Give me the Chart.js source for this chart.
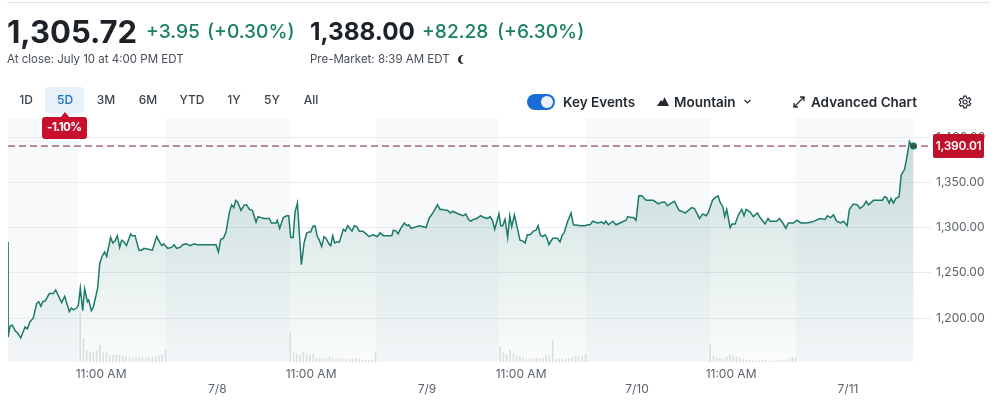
<!DOCTYPE html>
<html>
<head>
<meta charset="utf-8">
<style>
  html, body { margin: 0; padding: 0; background: #fff; }
  body { width: 1008px; height: 403px; overflow: hidden; position: relative; font-family: Inter, "Noto Sans", sans-serif; color: #232a31; }
  #chartWrap { position: absolute; left: 0; top: 0; width: 1008px; height: 403px; }
  .t { position: absolute; white-space: nowrap; line-height: 1; }
  .green { color: #1a7f64; font-weight: 500; font-size: 19.2px; }
  .sub { font-size: 11.5px; color: #464e56; }
  .rng { font-size: 12px; font-weight: 500; color: #3b434b; transform: translateX(-50%); }
  .bold { font-size: 13.5px; font-weight: 600; }
  svg { position: absolute; }
</style>
</head>
<body>
<div id="chartWrap"><canvas id="myChart" width="1008" height="403"></canvas></div>

<div style="position:absolute;left:7px;top:2px;width:983px;height:1px;background:#e0e4e9"></div>
<div class="t" style="left:7px;top:16px;font-size:31px;font-weight:700;color:#1d2229">1,305.72</div>
<div class="t green" style="left:146px;top:22px">+3.95</div>
<div class="t green" style="left:207px;top:22px">(+0.30%)</div>
<div class="t" style="left:310px;top:19px;font-size:24.300px;font-weight:700;color:#1d2229">1,388.00</div>
<div class="t green" style="left:422px;top:22px">+82.28</div>
<div class="t green" style="left:497px;top:22px">(+6.30%)</div>
<div class="t sub" style="left:7px;top:54px">At close: July 10 at 4:00 PM EDT</div>
<div class="t sub" style="left:310px;top:54px">Pre-Market: 8:39 AM EDT</div>
<svg style="left:456px;top:54px" width="11" height="11" viewBox="0 0 11 11"><path d="M7.5 1A4.6 4.6 0 1 0 7.5 10 5 5 0 0 1 7.5 1Z" fill="#232a31"/></svg>

<div style="position:absolute;left:45px;top:87px;width:39px;height:26px;background:#e6f1fa;border-radius:4px"></div>
<div class="t rng" style="left:26px;top:94px">1D</div>
<div class="t rng" style="left:65px;top:94px;color:#1a6dc4">5D</div>
<div class="t rng" style="left:106px;top:94px">3M</div>
<div class="t rng" style="left:148px;top:94px">6M</div>
<div class="t rng" style="left:192px;top:94px">YTD</div>
<div class="t rng" style="left:234px;top:94px">1Y</div>
<div class="t rng" style="left:272px;top:94px">5Y</div>
<div class="t rng" style="left:311px;top:94px">All</div>
<svg style="left:60px;top:112px" width="10" height="6" viewBox="0 0 10 6"><path d="M0 6 5 0 10 6Z" fill="#c8102e"/></svg>
<div style="position:absolute;left:42px;top:117px;width:45px;height:22px;background:#c8102e;border-radius:3px"></div>
<div class="t" style="left:47px;top:122px;font-size:11.5px;font-weight:700;color:#fff;letter-spacing:-0.5px">-1.10%</div>

<div style="position:absolute;left:527px;top:94px;width:28px;height:16px;background:#1a6dd4;border-radius:8px"></div>
<div style="position:absolute;left:541px;top:96px;width:12px;height:12px;background:#eef2f6;border-radius:6px"></div>
<div class="t bold" style="left:563px;top:96px">Key Events</div>
<svg style="left:657px;top:97px" width="12" height="9" viewBox="0 0 12 9"><path d="M0 9 4 3 5.5 4.5 7.5 0 12 9Z" fill="#232a31"/></svg>
<div class="t bold" style="left:674px;top:96px">Mountain</div>
<svg style="left:743px;top:99px" width="9" height="6" viewBox="0 0 9 6"><path d="M1.5 1 4.500 4 7.500 1" fill="none" stroke="#232a31" stroke-width="1.200"/></svg>
<svg style="left:792px;top:95px" width="14" height="14" viewBox="0 0 14 14"><path d="M2 12 12 2M8 2h4v4M2 8v4h4" fill="none" stroke="#232a31" stroke-width="1.300"/></svg>
<div class="t bold" style="left:811px;top:96px">Advanced Chart</div>
<svg style="left:958px;top:95px" width="14" height="14" viewBox="0 0 24 24"><path d="M12 8.500a3.500 3.500 0 1 0 0 7 3.500 3.500 0 0 0 0-7ZM10 2h4l.6 3 2.400 1.200 2.700-1.500 2 3.400-2.200 2 0 2.800 2.200 2-2 3.400-2.700-1.500L14.600 19 14 22h-4l-.6-3-2.400-1.200-2.700 1.500-2-3.400 2.200-2 0-2.800-2.200-2 2-3.400 2.700 1.500L9.400 5Z" fill="none" stroke="#232a31" stroke-width="2"/></svg>

<script src="https://cdn.jsdelivr.net/npm/chart.js@4"></script>
<script>
// hours counted from 4:00 AM on 7/7, one trading day is 16 hours on this axis
const hoursDay1 = [0,0.01,0.15,0.33,0.53,0.71,0.97,1.30,1.47,1.68,1.93,2.18,2.34,2.51,2.64,2.84,3.15,3.45,3.63,4.09,4.32,4.67,4.83,4.98,5.23,5.36,5.51,5.69,5.84,6.05,6.15,6.35,6.50,6.83,6.99,7.16,7.37,7.52,7.82,7.98,8.15,8.33,8.51,8.66,8.84,9.02,9.35,9.47,9.68,9.98,10.19,10.36,10.69,11.00,11.33,11.58,11.73,11.86,12.17,12.47,12.65,12.85,13.11];
const pricesDay1 = [1284,1179,1191,1192,1186,1184,1178,1190,1188,1196,1200,1216,1218,1213,1218,1219,1227,1227,1231,1217,1224,1207,1211,1209,1211,1214,1233,1208,1232,1218,1220,1208,1212,1233,1260,1268,1273,1268,1289,1283,1285,1291,1278,1286,1284,1280,1293,1291,1291,1275,1275,1277,1276,1275,1290,1283,1280,1282,1277,1278,1281,1277,1278];

const hoursDay2 = [13.31,13.56,13.92,14.17,14.43,14.63,15.85,16.03,16.21,16.41,16.61,16.87,17.04,17.20,17.35,17.50,17.75,18.01,18.19,18.39,18.62,18.90,19.05,19.25,19.51,19.91,20.07,20.42,20.52,20.70,20.98,21.23,21.39,21.54,21.72,21.87,22.05,22.35,22.56,22.76,22.91,23.06,23.22,23.39,23.57,23.72,23.90,24.08,24.23,24.49,24.59,24.74,24.89,25.04,25.25,25.55,25.70,25.88,26.21,26.39,26.57,26.77];
const pricesDay2 = [1281,1282,1280,1282,1281,1281,1281,1273,1287,1288,1295,1317,1325,1322,1330,1328,1319,1325,1325,1320,1319,1306,1312,1311,1310,1310,1305,1305,1308,1299,1311,1313,1313,1289,1289,1317,1327,1259,1283,1294,1295,1295,1301,1302,1290,1286,1279,1290,1288,1281,1280,1291,1283,1284,1284,1298,1296,1302,1296,1302,1301,1296];

const hoursDay3 = [27.03,27.20,27.51,27.79,28.14,28.35,28.60,29.24,29.36,29.57,29.72,29.92,30.20,30.38,30.53,30.71,31.34,31.85,32.08,32.41,32.72,32.92,33.12,33.30,33.48,33.73,33.88,34.32,34.70,34.87,35.13,35.28,35.46,35.71,36.02,36.27,36.55,36.73,36.91,37.08,37.41,37.54,37.69,37.87,38.07,38.23,38.38,38.58,38.81,39.01,39.22,39.40,39.57,39.78,40.03,40.23,40.39,40.54];
const pricesDay3 = [1296,1294,1290,1292,1290,1294,1291,1291,1297,1296,1293,1299,1305,1302,1303,1299,1302,1300,1310,1317,1325,1320,1320,1319,1319,1316,1318,1315,1313,1315,1308,1307,1309,1310,1313,1311,1310,1312,1308,1298,1315,1302,1302,1309,1289,1313,1301,1314,1299,1286,1285,1283,1292,1292,1296,1297,1302,1292];

const hoursDay4 = [40.74,40.92,41.05,41.22,41.50,41.86,42.06,42.24,42.37,42.62,42.90,43.08,43.71,43.97,44.15,44.35,44.55,44.91,45.24,45.42,45.54,45.75,46.08,46.33,46.63,47.09,47.22,47.45,47.65,47.85,48.06,48.29,48.62,48.79,49.17,49.56,49.81,50.06,50.24,50.44,50.77,51.13,51.46,51.59,51.84,52.10,52.30,52.68,52.93,53.19,53.37,53.67,53.87,54.10,54.25];
const pricesDay4 = [1290,1292,1289,1281,1288,1288,1284,1292,1294,1306,1316,1303,1302,1302,1303,1303,1307,1305,1306,1304,1307,1303,1307,1303,1305,1308,1312,1311,1311,1308,1335,1335,1330,1330,1330,1326,1328,1328,1324,1326,1329,1319,1317,1316,1319,1322,1321,1310,1315,1313,1317,1330,1333,1335,1328];

const hoursDay5 = [54.46,54.61,54.76,55.02,55.17,55.40,55.65,55.91,56.08,56.24,56.54,56.79,57.10,57.30,57.68,57.91,58.06,58.57,58.78,59.03,59.26,59.46,59.84,60.10,60.43,60.81,61.24,61.87,62.26,62.43,62.69,62.89,63.14,63.45,63.65,63.93,64.11,64.41,64.72,64.92,65.18,65.38,65.56,65.94,66.62,66.78,66.95,67.13,67.28,67.46,67.64,67.89,68.05,68.30,68.48,68.68,68.81,68.99];
const pricesDay5 = [1323,1312,1320,1300,1304,1304,1314,1320,1313,1320,1317,1312,1316,1311,1304,1310,1307,1307,1310,1305,1299,1305,1305,1308,1305,1305,1306,1310,1309,1313,1311,1314,1307,1305,1307,1302,1320,1326,1325,1321,1324,1329,1325,1330,1330,1334,1333,1327,1332,1327,1332,1334,1358,1364,1377,1395,1391,1390];

// volume bars, one per 15 minutes in the regular session
const sessionOpens = [5.5, 21.5, 37.5, 53.5];
const barStep = 0.25;
const volumesDay1 = [49,23,11,10,10,12,17,9,10,7,7,7,7,6,5,4,4,5,5,4,4,5,5,5,6,7,12];
const volumesDay2 = [30,9,8,7,10,8,7,8,4,4,4,3,5,4,3,4,3,3,3,3,4,3,2,2,2,2,10];
const volumesDay3 = [15,9,8,12,8,6,6,4,3,3,3,4,4,4,7,6,22,3,3,3,3,4,5,6,5,6,8];
const volumesDay4 = [17,6,4,4,3,5,7,6,5,4,3,2,2,1,1,2,2,2,1,1,1,2,2,2,3,5,4];

// extended hours shading
const bandStarts = [0, 11.96, 28.04, 44.04, 60.04];
const bandEnds = [5.33, 21.41, 37.41, 53.49, 68.99];

const xTicks = [7.09, 15.95, 23.09, 31.92, 39.09, 47.92, 55.09, 64];
const xLabels = ['11:00 AM', '7/8', '11:00 AM', '7/9', '11:00 AM', '7/10', '11:00 AM', '7/11'];
const yTicks = [1200, 1250, 1300, 1350, 1400];
const lastPrice = 1390.01;

const hours = [...hoursDay1, ...hoursDay2, ...hoursDay3, ...hoursDay4, ...hoursDay5];
const prices = [...pricesDay1, ...pricesDay2, ...pricesDay3, ...pricesDay4, ...pricesDay5];
const linePoints = hours.map((h, i) => ({ x: h, y: prices[i] }));

const volumePoints = [];
[volumesDay1, volumesDay2, volumesDay3, volumesDay4].forEach((vols, d) => {
  vols.forEach((v, i) => volumePoints.push({ x: sessionOpens[d] + i * barStep, y: v }));
});

const X_MAX = 70.4;
const fmt = v => v.toLocaleString('en-US', { minimumFractionDigits: 2, maximumFractionDigits: 2 });

const bandsPlugin = {
  id: 'bands',
  beforeDraw(chart) {
    const { ctx, chartArea, scales } = chart;
    ctx.save();
    ctx.fillStyle = '#f8f9fb';
    bandStarts.forEach((s, i) => {
      const x0 = scales.x.getPixelForValue(s);
      const x1 = scales.x.getPixelForValue(bandEnds[i]);
      ctx.fillRect(x0, chartArea.top, x1 - x0, chartArea.bottom - chartArea.top);
    });
    ctx.restore();
  }
};

const priceTagPlugin = {
  id: 'priceTag',
  afterDraw(chart) {
    const { ctx, chartArea, scales } = chart;
    const y = scales.y.getPixelForValue(lastPrice);
    const left = chartArea.right + 1;
    ctx.save();
    ctx.fillStyle = '#c0102a';
    ctx.beginPath();
    ctx.roundRect(left, y - 12, 51, 24, 2);
    ctx.fill();
    ctx.fillStyle = '#fff';
    ctx.font = '600 12px Inter, sans-serif';
    ctx.textAlign = 'center';
    ctx.textBaseline = 'middle';
    ctx.letterSpacing = '-0.3px';
    ctx.fillText(fmt(lastPrice), left + 25.5, y);
    ctx.restore();
  }
};

const ctx = document.getElementById('myChart');

new Chart(ctx, {
  type: 'line',
  data: {
    datasets: [
      {
        label: 'Price',
        data: linePoints,
        borderColor: '#1c7a68',
        borderWidth: 1.5,
        tension: 0,
        fill: 'start',
        backgroundColor: (c) => {
          const area = c.chart.chartArea;
          if (!area) return 'rgba(26,122,104,0.15)';
          const g = c.chart.ctx.createLinearGradient(0, area.top + 20, 0, area.bottom);
          g.addColorStop(0, 'rgba(20,115,95,0.22)');
          g.addColorStop(1, 'rgba(20,115,95,0.02)');
          return g;
        },
        pointRadius: (c) => (c.dataIndex === linePoints.length - 1 ? 3.5 : 0),
        pointBackgroundColor: '#14735f',
        pointBorderWidth: 0,
        order: 2,
        yAxisID: 'y'
      },
      {
        label: 'Last',
        data: [{ x: 0, y: lastPrice }, { x: X_MAX, y: lastPrice }],
        borderColor: '#7a1f35',
        borderWidth: 1,
        borderDash: [7, 4],
        pointRadius: 0,
        fill: false,
        order: 1,
        yAxisID: 'y'
      },
      {
        type: 'bar',
        label: 'Volume',
        data: volumePoints,
        backgroundColor: '#dfe2e5',
        barThickness: 1,
        order: 3,
        yAxisID: 'yVol'
      }
    ]
  },
  options: {
    responsive: false,
    animation: false,
    events: [],
    layout: { padding: { left: 8, top: 118, right: 0, bottom: 0 } },
    plugins: { legend: { display: false }, tooltip: { enabled: false } },
    scales: {
      x: {
        type: 'linear',
        offset: false,
        min: 0,
        max: X_MAX,
        afterBuildTicks: (scale) => { scale.ticks = xTicks.map(v => ({ value: v })); },
        afterFit: (scale) => { scale.height = 41; },
        grid: { display: false },
        border: { display: false },
        ticks: {
          autoSkip: false,
          maxRotation: 0,
          padding: -3,
          color: '#5b636a',
          font: { family: 'Inter, sans-serif', size: 12, lineHeight: 1.25 },
          callback: (v) => {
            const label = xLabels[xTicks.indexOf(v)];
            return label.includes('/') ? ['', label] : label;
          }
        }
      },
      y: {
        position: 'right',
        min: 1151.4,
        max: 1421,
        afterBuildTicks: (scale) => { scale.ticks = yTicks.map(v => ({ value: v })); },
        afterFit: (scale) => { scale.width = 76; },
        grid: { color: '#e9ecef', drawTicks: false },
        border: { display: false },
        ticks: {
          padding: 4,
          color: '#5b636a',
          font: { family: 'Inter, sans-serif', size: 12 },
          callback: (v) => fmt(v)
        }
      },
      yVol: { display: false, min: 0, max: 244 }
    }
  },
  plugins: [bandsPlugin, priceTagPlugin]
});
</script>
</body>
</html>
